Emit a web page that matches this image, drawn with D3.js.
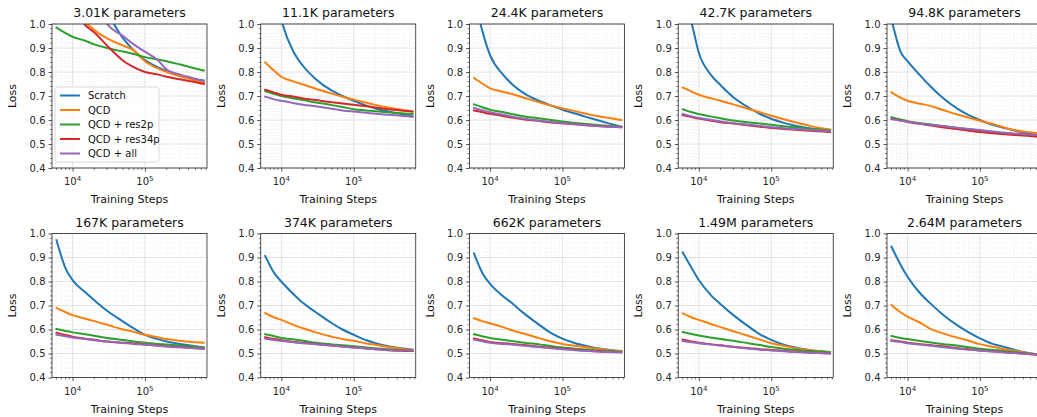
<!DOCTYPE html>
<html>
<head>
<meta charset="utf-8">
<script src="https://cdn.jsdelivr.net/npm/d3@7"></script>
<style>
  html, body { margin: 0; padding: 0; background: #fff; overflow: hidden; }
  svg { display: block; font-family: "DejaVu Sans", sans-serif; }
</style>
</head>
<body>
<div id="chart"></div>
<script>
// Loss vs. training steps, one small panel per model size.
const STEPS = [6000, 8000, 1e4, 1.5e4, 2e4, 3e4, 5e4, 7e4, 1e5, 1.5e5, 2e5, 3e5, 4.5e5, 6.5e5];

const PANEL_TITLES = [
  "3.01K parameters", "11.1K parameters", "24.4K parameters", "42.7K parameters", "94.8K parameters",
  "167K parameters", "374K parameters", "662K parameters", "1.49M parameters", "2.64M parameters",
];

const SERIES_NAMES = ["Scratch", "QCD", "QCD + res2p", "QCD + res34p", "QCD + all"];
const SERIES_COLORS = ["#1f77b4", "#ff7f0e", "#2ca02c", "#d62728", "#9467bd"];

const Y_TICKS = [0.4, 0.5, 0.6, 0.7, 0.8, 0.9, 1.0];
const X_TICKS = [1e4, 1e5];

// one row per panel, values at STEPS
const SCRATCH = [
  [1.6, 1.5, 1.4, 1.25, 1.15, 1.05, 0.94, 0.89, 0.85, 0.82, 0.805, 0.785, 0.772, 0.765],
  [1.4, 1.17, 1.02, 0.88, 0.825, 0.77, 0.722, 0.70, 0.68, 0.66, 0.648, 0.635, 0.625, 0.615],
  [1.12, 0.96, 0.87, 0.79, 0.75, 0.71, 0.677, 0.66, 0.643, 0.627, 0.615, 0.60, 0.585, 0.572],
  [1.1, 1.0, 0.88, 0.785, 0.745, 0.695, 0.65, 0.625, 0.605, 0.588, 0.578, 0.568, 0.56, 0.553],
  [1.02, 0.885, 0.845, 0.785, 0.745, 0.695, 0.645, 0.62, 0.60, 0.58, 0.57, 0.556, 0.545, 0.538],
  [0.972, 0.855, 0.806, 0.755, 0.722, 0.678, 0.633, 0.605, 0.578, 0.56, 0.55, 0.54, 0.532, 0.525],
  [0.906, 0.835, 0.80, 0.745, 0.71, 0.672, 0.626, 0.60, 0.578, 0.555, 0.543, 0.53, 0.522, 0.516],
  [0.917, 0.83, 0.79, 0.74, 0.71, 0.665, 0.615, 0.585, 0.562, 0.543, 0.533, 0.522, 0.515, 0.51],
  [0.921, 0.855, 0.806, 0.74, 0.705, 0.66, 0.61, 0.58, 0.557, 0.537, 0.527, 0.517, 0.51, 0.505],
  [0.945, 0.87, 0.82, 0.75, 0.713, 0.665, 0.615, 0.588, 0.563, 0.54, 0.53, 0.515, 0.503, 0.495],
];
const QCD = [
  [1.3, 1.2, 1.12, 1.01, 0.975, 0.94, 0.91, 0.89, 0.845, 0.815, 0.80, 0.783, 0.768, 0.755],
  [0.84, 0.805, 0.78, 0.76, 0.748, 0.73, 0.71, 0.697, 0.685, 0.672, 0.663, 0.652, 0.643, 0.635],
  [0.775, 0.75, 0.732, 0.718, 0.708, 0.692, 0.672, 0.66, 0.648, 0.637, 0.628, 0.617, 0.608, 0.60],
  [0.735, 0.718, 0.705, 0.69, 0.68, 0.665, 0.645, 0.632, 0.618, 0.603, 0.593, 0.58, 0.568, 0.56],
  [0.715, 0.693, 0.68, 0.668, 0.66, 0.643, 0.622, 0.61, 0.597, 0.583, 0.572, 0.558, 0.55, 0.545],
  [0.69, 0.672, 0.66, 0.645, 0.635, 0.62, 0.60, 0.59, 0.578, 0.568, 0.56, 0.553, 0.548, 0.545],
  [0.668, 0.65, 0.64, 0.618, 0.605, 0.588, 0.57, 0.56, 0.553, 0.542, 0.536, 0.527, 0.52, 0.515],
  [0.647, 0.634, 0.626, 0.61, 0.597, 0.582, 0.562, 0.55, 0.54, 0.532, 0.527, 0.52, 0.514, 0.51],
  [0.667, 0.65, 0.64, 0.622, 0.61, 0.593, 0.572, 0.558, 0.543, 0.532, 0.524, 0.516, 0.51, 0.506],
  [0.702, 0.672, 0.654, 0.628, 0.605, 0.585, 0.565, 0.553, 0.539, 0.528, 0.52, 0.51, 0.502, 0.495],
];
const RES2P = [
  [0.985, 0.962, 0.947, 0.93, 0.915, 0.90, 0.885, 0.875, 0.862, 0.852, 0.845, 0.832, 0.818, 0.806],
  [0.72, 0.708, 0.70, 0.69, 0.683, 0.673, 0.662, 0.654, 0.645, 0.64, 0.636, 0.632, 0.628, 0.625],
  [0.665, 0.652, 0.643, 0.633, 0.625, 0.615, 0.606, 0.60, 0.594, 0.588, 0.584, 0.579, 0.575, 0.572],
  [0.645, 0.632, 0.625, 0.614, 0.607, 0.598, 0.59, 0.585, 0.58, 0.574, 0.57, 0.565, 0.56, 0.556],
  [0.612, 0.602, 0.595, 0.587, 0.582, 0.575, 0.567, 0.562, 0.556, 0.55, 0.546, 0.542, 0.538, 0.535],
  [0.602, 0.594, 0.588, 0.58, 0.574, 0.565, 0.556, 0.55, 0.545, 0.54, 0.537, 0.533, 0.529, 0.525],
  [0.58, 0.572, 0.565, 0.558, 0.553, 0.545, 0.538, 0.534, 0.53, 0.525, 0.522, 0.518, 0.515, 0.513],
  [0.58, 0.571, 0.565, 0.557, 0.552, 0.545, 0.537, 0.531, 0.525, 0.52, 0.517, 0.513, 0.51, 0.508],
  [0.59, 0.581, 0.575, 0.566, 0.56, 0.553, 0.542, 0.535, 0.527, 0.52, 0.516, 0.511, 0.508, 0.505],
  [0.573, 0.565, 0.56, 0.552, 0.547, 0.54, 0.532, 0.526, 0.52, 0.515, 0.511, 0.506, 0.50, 0.497],
];
const RES34P = [
  [1.25, 1.15, 1.09, 0.995, 0.965, 0.91, 0.847, 0.82, 0.80, 0.79, 0.78, 0.77, 0.76, 0.75],
  [0.726, 0.714, 0.705, 0.697, 0.69, 0.683, 0.674, 0.669, 0.664, 0.657, 0.652, 0.645, 0.64, 0.635],
  [0.64, 0.632, 0.626, 0.617, 0.61, 0.602, 0.595, 0.59, 0.586, 0.582, 0.579, 0.575, 0.572, 0.57],
  [0.62, 0.612, 0.606, 0.597, 0.591, 0.585, 0.577, 0.572, 0.567, 0.563, 0.56, 0.556, 0.553, 0.55],
  [0.605, 0.598, 0.592, 0.584, 0.578, 0.57, 0.561, 0.555, 0.55, 0.545, 0.542, 0.538, 0.534, 0.53],
  [0.587, 0.577, 0.57, 0.562, 0.557, 0.55, 0.545, 0.542, 0.538, 0.533, 0.53, 0.527, 0.523, 0.52],
  [0.568, 0.56, 0.555, 0.548, 0.545, 0.54, 0.533, 0.529, 0.525, 0.521, 0.518, 0.514, 0.511, 0.51],
  [0.563, 0.554, 0.548, 0.543, 0.54, 0.535, 0.528, 0.524, 0.52, 0.516, 0.513, 0.509, 0.507, 0.505],
  [0.558, 0.55, 0.545, 0.538, 0.534, 0.528, 0.522, 0.518, 0.515, 0.511, 0.508, 0.505, 0.502, 0.50],
  [0.555, 0.55, 0.545, 0.539, 0.535, 0.53, 0.522, 0.518, 0.513, 0.509, 0.506, 0.502, 0.498, 0.495],
];
const ALL = [
  [1.5, 1.4, 1.3, 1.18, 1.1, 1.0, 0.95, 0.915, 0.885, 0.85, 0.81, 0.79, 0.775, 0.762],
  [0.697, 0.686, 0.68, 0.67, 0.664, 0.657, 0.647, 0.64, 0.635, 0.63, 0.626, 0.622, 0.618, 0.614],
  [0.65, 0.64, 0.632, 0.622, 0.614, 0.605, 0.597, 0.592, 0.587, 0.582, 0.579, 0.575, 0.572, 0.57],
  [0.625, 0.615, 0.608, 0.60, 0.594, 0.587, 0.58, 0.575, 0.57, 0.566, 0.563, 0.559, 0.556, 0.553],
  [0.603, 0.597, 0.593, 0.585, 0.58, 0.575, 0.567, 0.563, 0.558, 0.552, 0.548, 0.544, 0.54, 0.537],
  [0.578, 0.572, 0.567, 0.56, 0.555, 0.55, 0.544, 0.54, 0.537, 0.532, 0.529, 0.526, 0.523, 0.52],
  [0.562, 0.556, 0.552, 0.547, 0.543, 0.539, 0.533, 0.529, 0.525, 0.521, 0.518, 0.515, 0.513, 0.512],
  [0.558, 0.55, 0.545, 0.54, 0.537, 0.532, 0.526, 0.522, 0.518, 0.514, 0.511, 0.508, 0.506, 0.505],
  [0.552, 0.547, 0.543, 0.537, 0.533, 0.527, 0.52, 0.516, 0.513, 0.509, 0.507, 0.504, 0.502, 0.50],
  [0.553, 0.548, 0.543, 0.537, 0.533, 0.527, 0.52, 0.516, 0.512, 0.508, 0.505, 0.502, 0.498, 0.495],
];
const SERIES_DATA = [SCRATCH, QCD, RES2P, RES34P, ALL];

const W = 1037, H = 417;
const panelW = 155, panelH = 144;
const colLeft = (c) => 52 + c * 208.75;
const rowTop = [24, 233.5];
const INK = "#262626";

const svg = d3.select("#chart").append("svg").attr("width", W).attr("height", H);

const x = d3.scaleLog().domain([5200, 720000]).range([0, panelW]);
const y = d3.scaleLinear().domain([0.4, 1.0]).range([panelH, 0]);

const minorX = [];
[1e3, 1e4, 1e5].forEach((base) => {
  for (let k = 2; k <= 9; k++) {
    const v = base * k;
    if (v > x.domain()[0] && v < x.domain()[1]) minorX.push(v);
  }
});
const minorY = d3.range(0.42, 1.0, 0.02).filter((v) => Math.abs(v * 10 - Math.round(v * 10)) > 1e-6);

const line = d3.line().x((d) => x(d[0])).y((d) => y(d[1])).curve(d3.curveMonotoneX);

PANEL_TITLES.forEach((title, p) => {
  const row = Math.floor(p / 5), col = p % 5;
  const g = svg.append("g").attr("transform", `translate(${colLeft(col)},${rowTop[row]})`);

  // minor grid (dotted) then major grid
  g.append("g").selectAll("line").data(minorX).join("line")
    .attr("x1", (d) => x(d)).attr("x2", (d) => x(d)).attr("y1", 0).attr("y2", panelH)
    .attr("stroke", "#e3e3e3").attr("stroke-width", 0.6).attr("stroke-dasharray", "1,2");
  g.append("g").selectAll("line").data(minorY).join("line")
    .attr("y1", (d) => y(d)).attr("y2", (d) => y(d)).attr("x1", 0).attr("x2", panelW)
    .attr("stroke", "#e3e3e3").attr("stroke-width", 0.6).attr("stroke-dasharray", "1,2");
  g.append("g").selectAll("line").data(X_TICKS).join("line")
    .attr("x1", (d) => x(d)).attr("x2", (d) => x(d)).attr("y1", 0).attr("y2", panelH)
    .attr("stroke", "#dcdcdc").attr("stroke-width", 0.8);
  g.append("g").selectAll("line").data(Y_TICKS).join("line")
    .attr("y1", (d) => y(d)).attr("y2", (d) => y(d)).attr("x1", 0).attr("x2", panelW)
    .attr("stroke", "#dcdcdc").attr("stroke-width", 0.8);

  const clipId = "clip" + p;
  g.append("clipPath").attr("id", clipId).append("rect")
    .attr("width", panelW).attr("height", panelH);

  const lines = g.append("g").attr("clip-path", `url(#${clipId})`);
  SERIES_DATA.forEach((series, s) => {
    const pts = STEPS.map((st, i) => [st, series[p][i]]);
    lines.append("path").datum(pts)
      .attr("d", line).attr("fill", "none")
      .attr("stroke", SERIES_COLORS[s]).attr("stroke-width", 2)
      .attr("stroke-linejoin", "round").attr("stroke-linecap", "square");
  });

  // axes
  const yAxis = g.append("g")
    .call(d3.axisLeft(y).tickValues(Y_TICKS).tickFormat(d3.format(".1f")).tickSize(3.5).tickPadding(3));
  yAxis.append("g").selectAll("line").data(minorY).join("line")
    .attr("x1", -2).attr("x2", 0).attr("y1", (d) => y(d)).attr("y2", (d) => y(d))
    .attr("stroke", INK).attr("stroke-width", 0.6);
  const xAxis = g.append("g").attr("transform", `translate(0,${panelH})`)
    .call(d3.axisBottom(x).tickValues(X_TICKS).tickFormat(() => "").tickSize(3.5));
  xAxis.append("g").selectAll("line").data(minorX).join("line")
    .attr("x1", (d) => x(d)).attr("x2", (d) => x(d)).attr("y1", 0).attr("y2", 2)
    .attr("stroke", INK).attr("stroke-width", 0.6);
  [yAxis, xAxis].forEach((a) => {
    a.select(".domain").remove();
    a.selectAll(".tick line").attr("stroke", INK).attr("stroke-width", 0.8);
    a.selectAll("text").attr("font-size", 10).attr("fill", INK).attr("font-family", "DejaVu Sans");
  });

  // 10^n labels
  X_TICKS.forEach((t) => {
    const lbl = g.append("text").attr("x", x(t)).attr("y", panelH + 17)
      .attr("text-anchor", "middle").attr("font-size", 10).attr("fill", INK);
    lbl.append("tspan").text("10");
    lbl.append("tspan").attr("dy", -4).attr("font-size", 7).text(Math.log10(t));
  });

  g.append("rect").attr("width", panelW).attr("height", panelH)
    .attr("fill", "none").attr("stroke", INK).attr("stroke-width", 0.8);

  g.append("text").attr("x", panelW / 2).attr("y", -7)
    .attr("text-anchor", "middle").attr("font-size", 12.5).attr("fill", "#111").text(title);
  g.append("text").attr("x", panelW / 2).attr("y", panelH + 35)
    .attr("text-anchor", "middle").attr("font-size", 11).attr("fill", "#111").text("Training Steps");
  g.append("text").attr("transform", `translate(-36,${panelH / 2}) rotate(-90)`)
    .attr("text-anchor", "middle").attr("font-size", 11).attr("fill", "#111").text("Loss");

  if (p === 0) {
    const lg = g.append("g").attr("transform", "translate(3,63)");
    lg.append("rect").attr("width", 104).attr("height", 75).attr("rx", 2.5)
      .attr("fill", "#fff").attr("fill-opacity", 0.8).attr("stroke", "#d0d0d0").attr("stroke-width", 0.8);
    SERIES_NAMES.forEach((name, s) => {
      const yy = 8.5 + s * 14.5;
      lg.append("line").attr("x1", 5).attr("x2", 25).attr("y1", yy).attr("y2", yy)
        .attr("stroke", SERIES_COLORS[s]).attr("stroke-width", 2);
      lg.append("text").attr("x", 33).attr("y", yy).attr("dy", "0.35em")
        .attr("font-size", 10).attr("fill", "#111").text(name);
    });
  }
});
</script>
</body>
</html>
